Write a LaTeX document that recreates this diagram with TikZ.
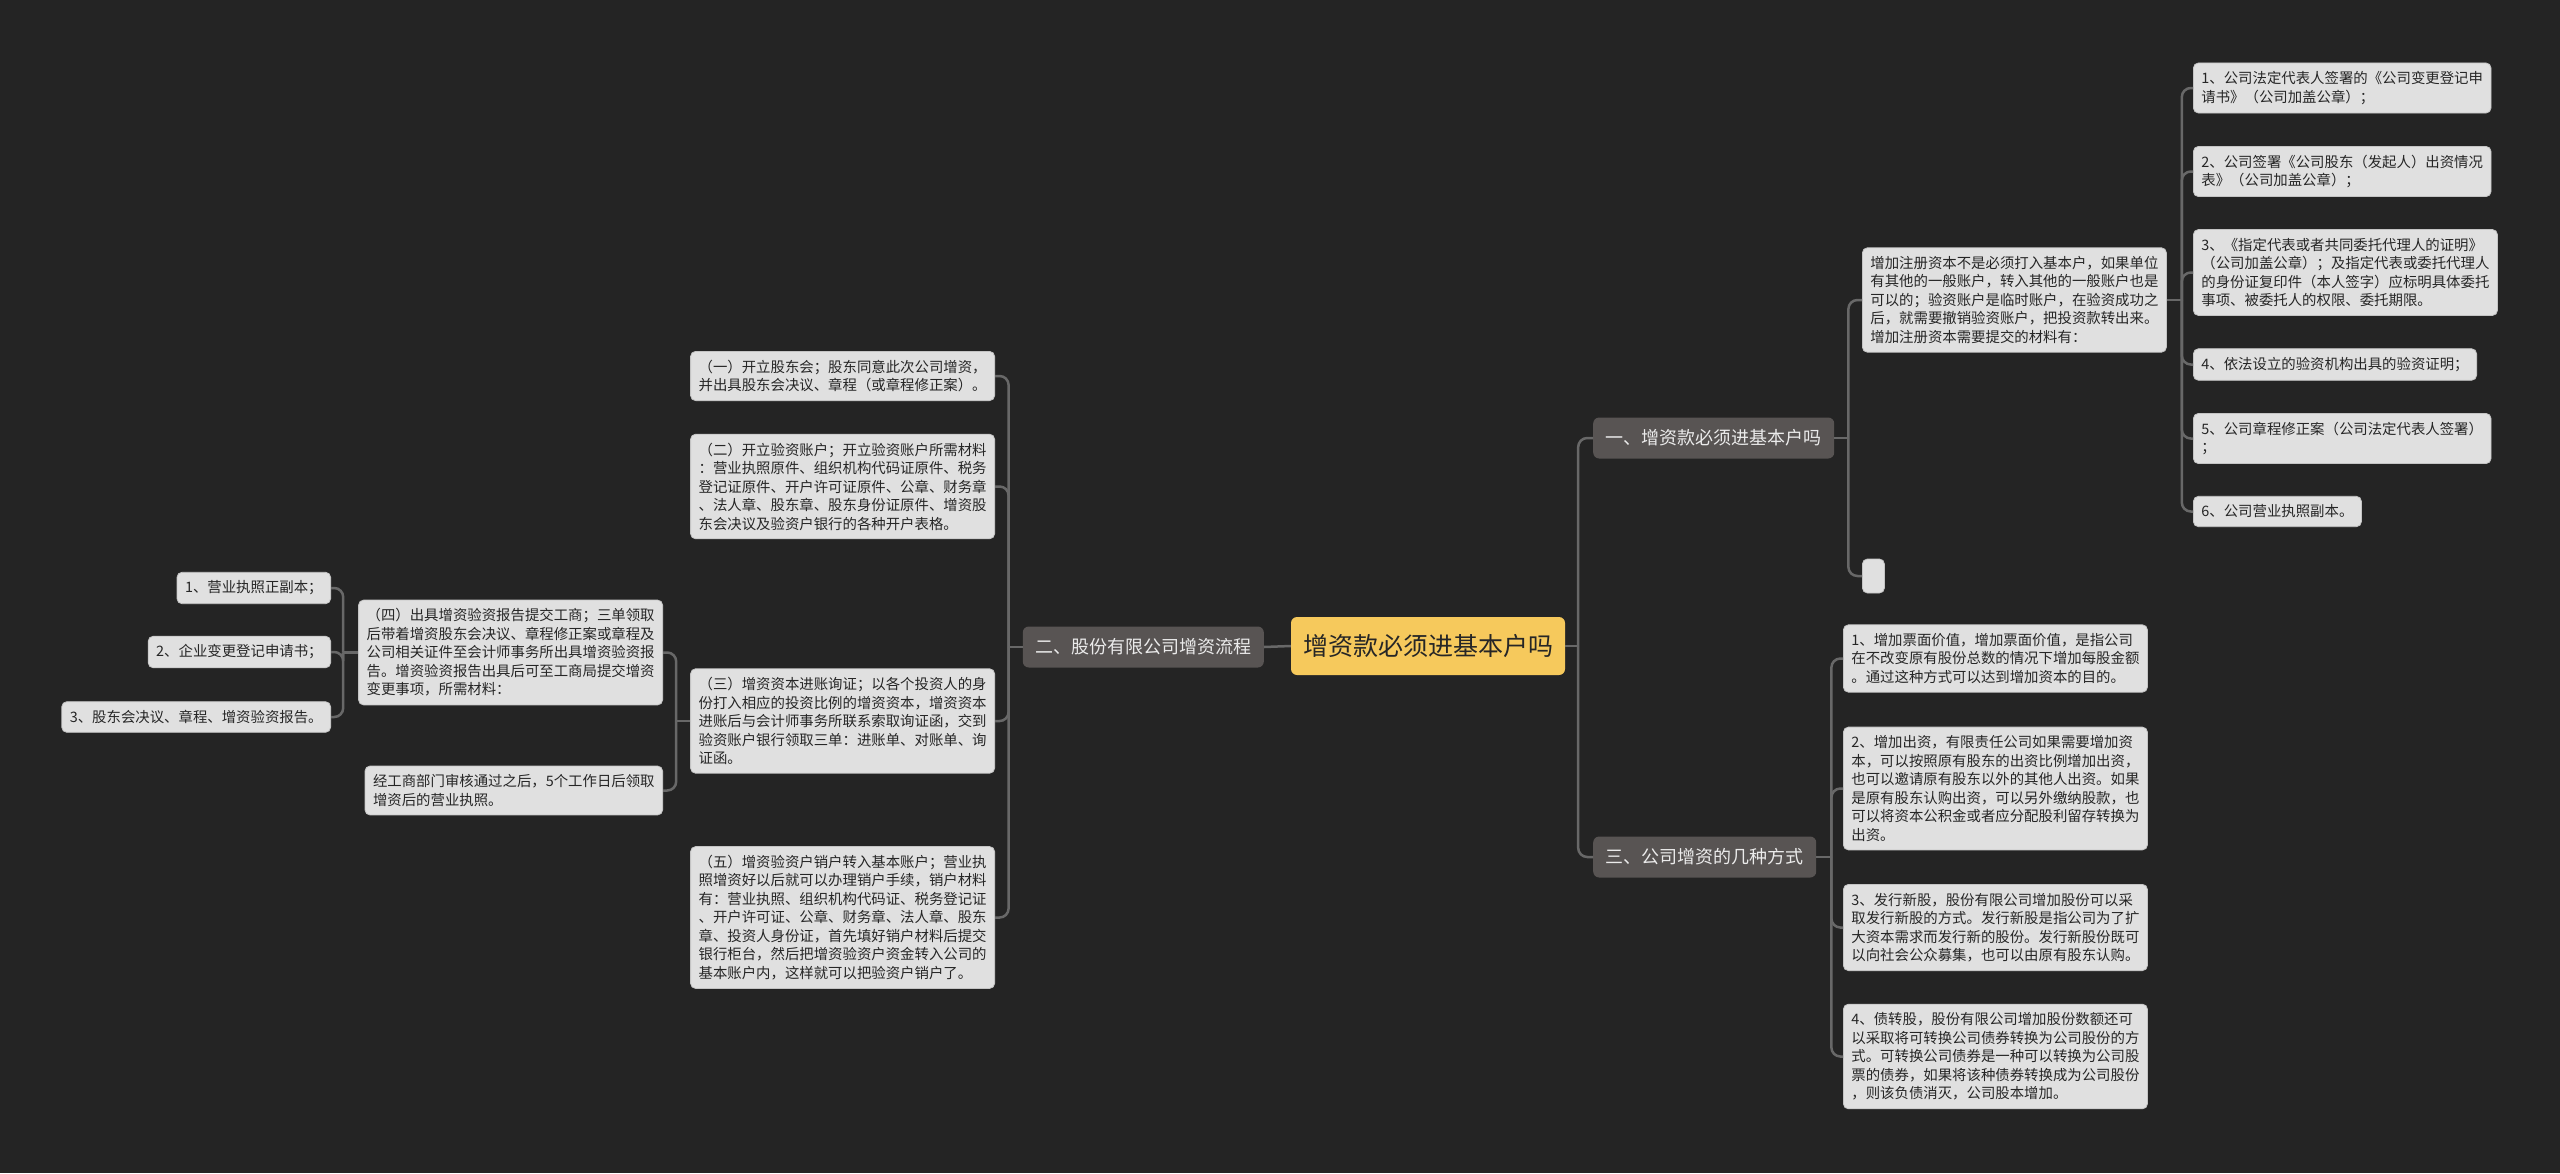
\documentclass[tikz,border=0pt]{standalone}
\usepackage{fontspec}
\setmainfont{Noto Sans CJK SC}

\definecolor{bgdark}{RGB}{36,36,36}
\definecolor{leafgray}{RGB}{224,224,224}
\definecolor{leafedge}{RGB}{196,196,196}
\definecolor{branchgray}{RGB}{88,84,83}
\definecolor{rootyellow}{RGB}{246,201,92}
\definecolor{linkgray}{RGB}{104,104,104}
\definecolor{inkdark}{RGB}{38,38,38}

\tikzset{
  leaf/.style={fill=leafgray, draw=leafedge, line width=0.8pt, rounded corners=5pt,
    text=inkdark, align=left, inner xsep=8pt, inner ysep=8.5pt,
    font=\fontsize{14.4}{18.5}\selectfont},
  branch/.style={fill=branchgray, rounded corners=6pt, text=white!92!black,
    inner xsep=12.5pt, inner ysep=0pt, minimum height=41pt,
    font=\fontsize{18}{22}\selectfont},
  rootbox/.style={fill=rootyellow, rounded corners=6pt, text=inkdark,
    inner xsep=12pt, inner ysep=0pt, minimum height=58pt,
    font=\fontsize{25}{30}\selectfont},
  link/.style={draw=linkgray, line width=2.5pt, rounded corners=9pt},
}

\begin{document}
\begin{tikzpicture}[x=1pt,y=-1pt]
  \fill[bgdark] (0,0) rectangle (2560,1173);
  \useasboundingbox (0,0) rectangle (2560,1173);

  \node[rootbox] (root) at (1428,646) {增资款必须进基本户吗};
  \node[branch,anchor=west] (n1) at (1593,438) {一、增资款必须进基本户吗};
  \node[branch,anchor=east] (n2) at (1264,647) {二、股份有限公司增资流程};
  \node[branch,anchor=west] (n3) at (1593,857) {三、公司增资的几种方式};

  \node[leaf,anchor=west] (a) at (1862,300) {增加注册资本不是必须打入基本户，如果单位\\有其他的一般账户，转入其他的一般账户也是\\可以的；验资账户是临时账户，在验资成功之\\后，就需要撤销验资账户，把投资款转出来。\\增加注册资本需要提交的材料有：};
  \node[leaf,anchor=west,minimum width=22pt,minimum height=34pt,inner sep=0pt] (a0) at (1862,576) {};

  \node[leaf,anchor=west] (a1) at (2193,88) {1、公司法定代表人签署的《公司变更登记申\\请书》（公司加盖公章）；};
  \node[leaf,anchor=west] (a2) at (2193,171.5) {2、公司签署《公司股东（发起人）出资情况\\表》（公司加盖公章）；};
  \node[leaf,anchor=west] (a3) at (2193,272.5) {3、《指定代表或者共同委托代理人的证明》\\（公司加盖公章）；及指定代表或委托代理人\\的身份证复印件（本人签字）应标明具体委托\\事项、被委托人的权限、委托期限。};
  \node[leaf,anchor=west] (a4) at (2193,364.5) {4、依法设立的验资机构出具的验资证明；};
  \node[leaf,anchor=west] (a5) at (2193,438.5) {5、公司章程修正案（公司法定代表人签署）\\；};
  \node[leaf,anchor=west] (a6) at (2193,511.5) {6、公司营业执照副本。};

  \node[leaf,anchor=west] (b1) at (1843,658.5) {1、增加票面价值，增加票面价值，是指公司\\在不改变原有股份总数的情况下增加每股金额\\。通过这种方式可以达到增加资本的目的。};
  \node[leaf,anchor=west] (b2) at (1843,788.5) {2、增加出资，有限责任公司如果需要增加资\\本，可以按照原有股东的出资比例增加出资，\\也可以邀请原有股东以外的其他人出资。如果\\是原有股东认购出资，可以另外缴纳股款，也\\可以将资本公积金或者应分配股利留存转换为\\出资。};
  \node[leaf,anchor=west] (b3) at (1843,927.5) {3、发行新股，股份有限公司增加股份可以采\\取发行新股的方式。发行新股是指公司为了扩\\大资本需求而发行新的股份。发行新股份既可\\以向社会公众募集，也可以由原有股东认购。};
  \node[leaf,anchor=west] (b4) at (1843,1056.5) {4、债转股，股份有限公司增加股份数额还可\\以采取将可转换公司债券转换为公司股份的方\\式。可转换公司债券是一种可以转换为公司股\\票的债券，如果将该种债券转换成为公司股份\\，则该负债消灭，公司股本增加。};

  \node[leaf,anchor=east] (c1) at (995,376) {（一）开立股东会；股东同意此次公司增资，\\并出具股东会决议、章程（或章程修正案）。};
  \node[leaf,anchor=east] (c2) at (995,486.5) {（二）开立验资账户；开立验资账户所需材料\\：营业执照原件、组织机构代码证原件、税务\\登记证原件、开户许可证原件、公章、财务章\\、法人章、股东章、股东身份证原件、增资股\\东会决议及验资户银行的各种开户表格。};
  \node[leaf,anchor=east] (c3) at (995,721) {（三）增资资本进账询证；以各个投资人的身\\份打入相应的投资比例的增资资本，增资资本\\进账后与会计师事务所联系索取询证函，交到\\验资账户银行领取三单：进账单、对账单、询\\证函。};
  \node[leaf,anchor=east] (c5) at (995,917.5) {（五）增资验资户销户转入基本账户；营业执\\照增资好以后就可以办理销户手续，销户材料\\有：营业执照、组织机构代码证、税务登记证\\、开户许可证、公章、财务章、法人章、股东\\章、投资人身份证，首先填好销户材料后提交\\银行柜台，然后把增资验资户资金转入公司的\\基本账户内，这样就可以把验资户销户了。};

  \node[leaf,anchor=east] (c4) at (663,652.5) {（四）出具增资验资报告提交工商；三单领取\\后带着增资股东会决议、章程修正案或章程及\\公司相关证件至会计师事务所出具增资验资报\\告。增资验资报告出具后可至工商局提交增资\\变更事项，所需材料：};
  \node[leaf,anchor=east] (c6) at (663,790.5) {经工商部门审核通过之后，5个工作日后领取\\增资后的营业执照。};

  \node[leaf,anchor=east] (d1) at (331,588) {1、营业执照正副本；};
  \node[leaf,anchor=east] (d2) at (331,652) {2、企业变更登记申请书；};
  \node[leaf,anchor=east] (d3) at (331,717) {3、股东会决议、章程、增资验资报告。};

  \draw[link] (root.west) -- (n2.east);
  \draw[link] (root.east) -- +(13,0);
  \foreach \n in {n1,n3}
    \draw[link] ([xshift=13pt]root.east) |- (\n.west);

  \draw[link] (n1.east) -- +(14,0);
  \foreach \n in {a,a0}
    \draw[link] ([xshift=14pt]n1.east) |- (\n.west);
  \draw[link] (a.east) -- +(15,0);
  \foreach \k in {1,...,6}
    \draw[link] ([xshift=15pt]a.east) |- (a\k.west);

  \draw[link] (n3.east) -- +(15,0);
  \foreach \k in {1,...,4}
    \draw[link] ([xshift=15pt]n3.east) |- (b\k.west);

  \draw[link] (n2.west) -- +(-14,0);
  \foreach \k in {1,2,3,5}
    \draw[link] ([xshift=-14pt]n2.west) |- (c\k.east);
  \draw[link] (c3.west) -- +(-14,0);
  \foreach \k in {4,6}
    \draw[link] ([xshift=-14pt]c3.west) |- (c\k.east);
  \draw[link] (c4.west) -- +(-15,0);
  \foreach \k in {1,2,3}
    \draw[link] ([xshift=-15pt]c4.west) |- (d\k.east);
\end{tikzpicture}
\end{document}
